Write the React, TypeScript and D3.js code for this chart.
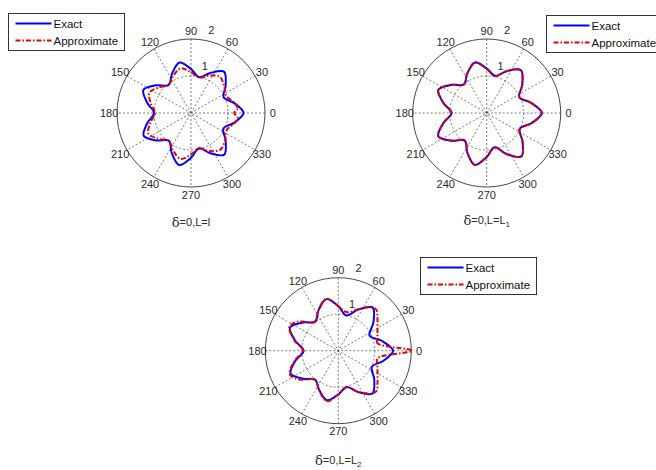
import React from "react";
import * as d3 from "d3";

// ---------- data ----------
const ANGLE_TICKS = [0, 30, 60, 90, 120, 150, 180, 210, 240, 270, 300, 330];
const RADIAL_TICKS = [1, 2];
const LEGEND_LABELS = ["Exact", "Approximate"];

// standard sampling angles (degrees, counter-clockwise from 0)
const ANGLES = [0, 12.9, 25.7, 38.6, 51.4, 64.3, 77.1, 90, 102.9, 115.7, 128.6, 141.4, 154.3, 167.1,
  180, 192.9, 205.7, 218.6, 231.4, 244.3, 257.1, 270, 282.9, 295.7, 308.6, 321.4, 334.3, 347.1];

// Plot 1: delta=0, L=l
const P1_EXACT_R = [1.42, 1.2, 0.98, 1.2, 1.43, 1.2, 0.99, 1.19, 1.4, 1.18, 0.97, 1.2, 1.43, 1.21,
  1.0, 1.21, 1.42, 1.19, 0.96, 1.2, 1.44, 1.21, 0.98, 1.21, 1.44, 1.2, 0.97, 1.19];
const P1_APPROX_A = [0, 6, 12.9, 25.7, 38.6, 51.4, 64.3, 77.1, 90, 102.9, 115.7, 128.6, 141.4, 154.3, 167.1,
  180, 192.9, 205.7, 218.6, 231.4, 244.3, 257.1, 270, 282.9, 295.7, 308.6, 321.4, 334.3, 347.1, 354];
const P1_APPROX_R = [1.17, 1.27, 1.21, 1.06, 1.15, 1.25, 1.12, 0.98, 1.1, 1.24, 1.11, 0.97, 1.11, 1.25, 1.11,
  0.97, 1.12, 1.28, 1.12, 0.96, 1.12, 1.27, 1.12, 0.98, 1.14, 1.27, 1.18, 1.07, 1.21, 1.27];

// Plot 2: delta=0, L=L1
const P2_EXACT_R = [1.49, 1.23, 0.98, 1.23, 1.48, 1.26, 1.03, 1.2, 1.4, 1.2, 0.99, 1.22, 1.45, 1.2,
  0.95, 1.2, 1.45, 1.2, 0.95, 1.2, 1.44, 1.19, 0.95, 1.23, 1.5, 1.24, 0.99, 1.24];
const P2_APPROX_R = [1.49, 1.23, 0.98, 1.23, 1.48, 1.25, 1.03, 1.2, 1.41, 1.2, 0.99, 1.22, 1.45, 1.2,
  0.95, 1.2, 1.45, 1.2, 0.95, 1.2, 1.44, 1.19, 0.95, 1.23, 1.5, 1.24, 0.99, 1.24];

// Plot 3: delta=0, L=L2
const P3_EXACT_R = [1.5, 1.22, 0.95, 1.23, 1.51, 1.25, 0.99, 1.22, 1.45, 1.24, 1.02, 1.24, 1.47, 1.21,
  0.95, 1.2, 1.45, 1.23, 1.02, 1.2, 1.39, 1.2, 1.02, 1.26, 1.5, 1.26, 1.02, 1.26];
const P3_APPROX_A = [0, 11, 20, 30, 40, 46, 51.4, 64.3, 77.1, 90, 102.9, 115.7, 128.6, 141.4, 146, 154.3,
  167.1, 180, 192.9, 205.7, 214, 218.6, 231.4, 244.3, 257.1, 270, 282.9, 295.7, 308.6, 314, 320, 330, 340, 349];
const P3_APPROX_R = [2.02, 1.09, 1.14, 1.24, 1.4, 1.52, 1.53, 1.26, 1.08, 1.22, 1.46, 1.25, 1.02, 1.28, 1.4, 1.49,
  1.23, 0.97, 1.23, 1.48, 1.38, 1.28, 1.02, 1.21, 1.42, 1.2, 1.03, 1.25, 1.5, 1.52, 1.4, 1.24, 1.14, 1.09];

// ---------- styling ----------
const W = 656;
const H = 470;
const FONT = "'Liberation Sans', Arial, sans-serif";
const BLUE = "#0000ff";
const RED = "#e80000";
const TXT = "#2a2a2a";

type Pt = { a: number; r: number };
const zip = (as: number[], rs: number[]): Pt[] => as.map((a, i) => ({ a, r: rs[i] }));

interface PolarProps {
  cx: number;
  cy: number;
  R: number;
  exact: Pt[];
  approx: Pt[];
  caption: React.ReactNode;
  capY: number;
  legend: { x: number; y: number; w: number; h: number };
}

function Polar({ cx, cy, R, exact, approx, caption, capY, legend }: PolarProps) {
  const rs = d3.scaleLinear().domain([0, 2]).range([0, R]);
  const toRad = (deg: number) => (deg * Math.PI) / 180;
  const line = d3
    .lineRadial<Pt>()
    .angle((d) => toRad(90 - d.a))
    .radius((d) => rs(d.r))
    .curve(d3.curveCatmullRomClosed.alpha(0.5));
  const spokes = ANGLE_TICKS.filter((a) => a < 180);
  return (
    <g>
      <g transform={`translate(${cx},${cy})`}>
        {spokes.map((a) => (
          <line
            key={a}
            x1={rs(2) * Math.cos(toRad(a))}
            y1={-rs(2) * Math.sin(toRad(a))}
            x2={-rs(2) * Math.cos(toRad(a))}
            y2={rs(2) * Math.sin(toRad(a))}
            stroke="#444"
            strokeWidth={0.7}
            strokeDasharray="2,2"
          />
        ))}
        <circle r={rs(1)} fill="none" stroke="#444" strokeWidth={0.7} strokeDasharray="2,2" />
        <circle r={rs(2)} fill="none" stroke="#333" strokeWidth={0.9} />
        <path d={line(exact) || ""} fill="none" stroke={BLUE} strokeWidth={2} />
        <path d={line(approx) || ""} fill="none" stroke={RED} strokeWidth={2} strokeDasharray="5,2,1.5,2" />
        {ANGLE_TICKS.map((a) => (
          <text
            key={a}
            x={(rs(2) * 1.1 + 0.5) * Math.cos(toRad(a))}
            y={-(rs(2) * 1.1 + 0.5) * Math.sin(toRad(a))}
            textAnchor="middle"
            dominantBaseline="central"
            fontSize={11}
            fill={TXT}
          >
            {a}
          </text>
        ))}
        {RADIAL_TICKS.map((v) => (
          <text
            key={v}
            x={rs(v) * Math.cos(toRad(80)) + 7.5}
            y={-rs(v) * Math.sin(toRad(80)) - 10.5}
            textAnchor="middle"
            dominantBaseline="central"
            fontSize={11}
            fill={TXT}
          >
            {v}
          </text>
        ))}
      </g>
      <text x={cx} y={capY} textAnchor="middle" fontSize={11} fill={TXT}>
        {caption}
      </text>
      <g transform={`translate(${legend.x},${legend.y})`}>
        <rect width={legend.w} height={legend.h} fill="#fff" stroke="#333" strokeWidth={1} />
        <line x1={7} x2={43} y1={10} y2={10} stroke={BLUE} strokeWidth={2} />
        <line x1={7} x2={43} y1={27} y2={27} stroke={RED} strokeWidth={2} strokeDasharray="5,2,1.5,2" />
        {LEGEND_LABELS.map((t, i) => (
          <text key={t} x={45} y={10 + i * 17} dominantBaseline="central" fontSize={11.5} fill="#111">
            {t}
          </text>
        ))}
      </g>
    </g>
  );
}

const Cap = ({ sub, last }: { sub?: string; last: string }) => (
  <>
    <tspan fontSize={13} fontFamily="'DejaVu Serif', serif" dy={1}>δ</tspan>
    <tspan dy={-1}>{"=0,L=" + last}</tspan>
    {sub ? (
      <tspan fontSize={8} dy={3}>
        {sub}
      </tspan>
    ) : null}
  </>
);

export default function App() {
  return (
    <svg
      width={W}
      height={H}
      style={{ position: "absolute", left: 0, top: 0, background: "#fff" }}
      fontFamily={FONT}
    >
      <rect width={W} height={H} fill="#fff" />
      <Polar
        cx={191}
        cy={113}
        R={74}
        exact={zip(ANGLES, P1_EXACT_R)}
        approx={zip(P1_APPROX_A, P1_APPROX_R)}
        caption={<Cap last="l" />}
        capY={226}
        legend={{ x: 8.5, y: 13.5, w: 116, h: 37 }}
      />
      <Polar
        cx={486.7}
        cy={113}
        R={74}
        exact={zip(ANGLES, P2_EXACT_R)}
        approx={zip(ANGLES, P2_APPROX_R)}
        caption={<Cap last="L" sub="1" />}
        capY={224}
        legend={{ x: 546.5, y: 15.5, w: 116, h: 37 }}
      />
      <Polar
        cx={338.3}
        cy={350.7}
        R={73}
        exact={zip(ANGLES, P3_EXACT_R)}
        approx={zip(P3_APPROX_A, P3_APPROX_R)}
        caption={<Cap last="L" sub="2" />}
        capY={464}
        legend={{ x: 420.5, y: 257.5, w: 116, h: 37 }}
      />
    </svg>
  );
}
